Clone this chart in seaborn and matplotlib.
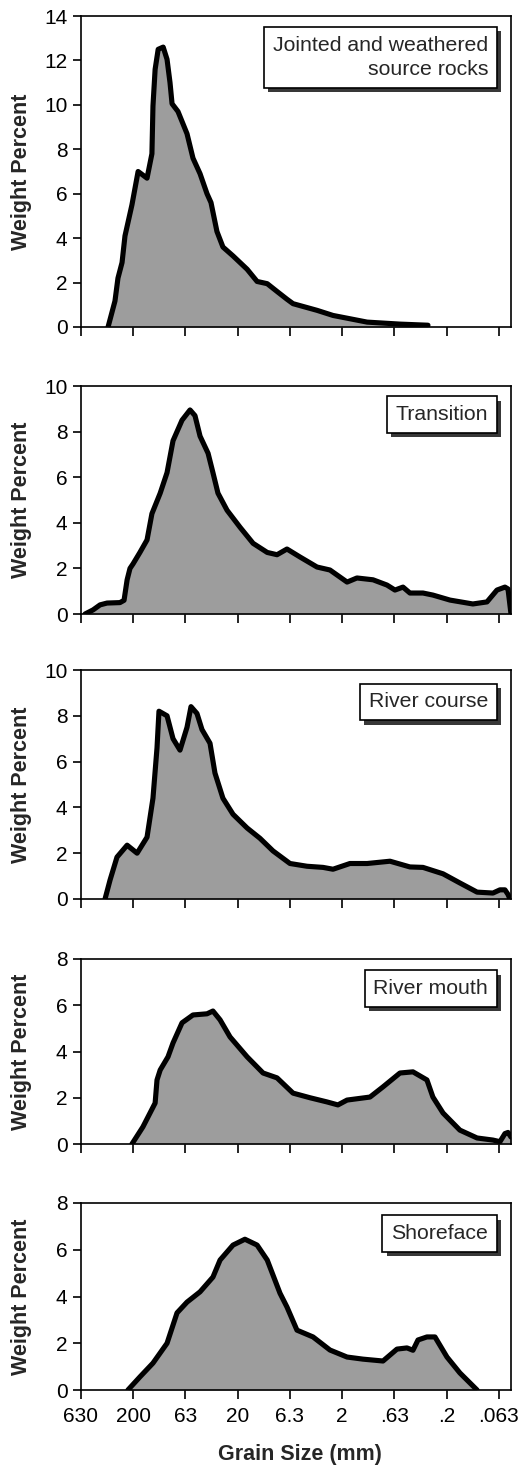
import matplotlib
matplotlib.use("Agg")
import matplotlib.pyplot as plt
import matplotlib.patheffects as pe
from matplotlib.ticker import NullLocator
import pandas as pd
import seaborn as sns

# Grain-size distributions (grain size in mm, weight percent) along the
# sediment pathway from source rocks to the shoreface.
source_mm = [347, 298, 279, 255, 239, 205, 179, 147, 132, 129, 123, 115, 103,
             94.6, 88.6, 84.7, 74.3, 60.9, 53.4, 45.7, 39.2, 35.9, 31.5, 27.6,
             22.1, 16.2, 13.0, 10.4, 8.38, 6.73, 5.89, 3.47, 2.44, 1.15, 0.558,
             0.301]
source_wt = [0, 1.17, 2.2, 2.9, 4.1, 5.5, 7.0, 6.7, 7.8, 9.95, 11.6, 12.5,
             12.6, 12.05, 11.0, 10.05, 9.7, 8.7, 7.6, 6.9, 6.0, 5.6, 4.3, 3.6,
             3.2, 2.6, 2.05, 1.95, 1.6, 1.25, 1.05, 0.75, 0.52, 0.22, 0.13,
             0.08]

transition_mm = [576, 483, 414, 355, 267, 244, 228, 214, 200, 172, 147, 132,
                 110, 94.6, 82.9, 68.0, 57.0, 51.1, 45.7, 38.3, 34.4, 30.8,
                 25.2, 18.9, 14.2, 10.4, 8.38, 6.73, 5.05, 3.47, 2.61, 1.79,
                 1.44, 1.01, 0.743, 0.623, 0.522, 0.448, 0.336, 0.270, 0.185,
                 0.112, 0.082, 0.0658, 0.0552, 0.0516, 0.0483]
transition_wt = [0, 0.18, 0.4, 0.48, 0.5, 0.6, 1.5, 2.0, 2.2, 2.7, 3.25, 4.4,
                 5.3, 6.2, 7.6, 8.5, 8.95, 8.7, 7.8, 7.05, 6.2, 5.3, 4.55, 3.8,
                 3.1, 2.7, 2.6, 2.85, 2.5, 2.06, 1.93, 1.4, 1.58, 1.5, 1.27,
                 1.05, 1.18, 0.92, 0.92, 0.83, 0.61, 0.44, 0.53, 1.05, 1.18,
                 1.1, 0]

course_mm = [371, 332, 285, 228, 183, 147, 129, 118, 113, 94.6, 82.9, 71.1,
             60.9, 55.8, 48.9, 43.8, 36.7, 32.9, 27.6, 22.1, 16.2, 12.2, 9.16,
             6.30, 4.33, 3.04, 2.44, 1.68, 1.15, 0.695, 0.448, 0.336, 0.216,
             0.149, 0.102, 0.0719, 0.0616, 0.0552, 0.0516, 0.0494]
course_wt = [0, 0.83, 1.83, 2.35, 2.0, 2.7, 4.4, 6.6, 8.2, 8.0, 7.0, 6.5, 7.5,
             8.4, 8.1, 7.4, 6.8, 5.5, 4.4, 3.7, 3.1, 2.65, 2.1, 1.55, 1.43,
             1.38, 1.3, 1.55, 1.55, 1.65, 1.4, 1.38, 1.1, 0.7, 0.3, 0.26, 0.4,
             0.4, 0.2, 0]

mouth_mm = [205, 161, 123, 118, 110, 92.6, 82.9, 68.0, 53.4, 39.2, 34.4, 29.4,
            23.6, 16.2, 11.4, 8.38, 5.89, 4.05, 2.79, 2.19, 1.79, 1.08, 0.811,
            0.558, 0.419, 0.308, 0.270, 0.216, 0.149, 0.102, 0.0719, 0.0616,
            0.0552, 0.0516, 0.0483]
mouth_wt = [0, 0.74, 1.77, 2.77, 3.2, 3.77, 4.37, 5.24, 5.58, 5.63, 5.75, 5.37,
            4.63, 3.77, 3.07, 2.86, 2.2, 2.0, 1.82, 1.69, 1.9, 2.03, 2.47,
            3.07, 3.12, 2.77, 2.03, 1.34, 0.6, 0.26, 0.17, 0.1, 0.45, 0.5, 0.3]

shore_mm = [224, 172, 129, 94.6, 75.9, 60.9, 45.7, 34.4, 29.4, 22.1, 17.0,
            13.0, 10.4, 7.85, 6.73, 5.40, 3.79, 2.61, 1.79, 1.26, 0.811, 0.596,
            0.478, 0.419, 0.375, 0.308, 0.258, 0.198, 0.149, 0.102]
shore_wt = [0, 0.56, 1.15, 2.0, 3.3, 3.76, 4.2, 4.83, 5.56, 6.2, 6.45, 6.2,
            5.56, 4.14, 3.55, 2.56, 2.27, 1.71, 1.41, 1.32, 1.24, 1.75, 1.8,
            1.7, 2.14, 2.27, 2.27, 1.41, 0.73, 0]

panel_names = ["Jointed and weathered\nsource rocks", "Transition",
               "River course", "River mouth", "Shoreface"]
panel_mm = [source_mm, transition_mm, course_mm, mouth_mm, shore_mm]
panel_wt = [source_wt, transition_wt, course_wt, mouth_wt, shore_wt]
panel_ymax = [14, 10, 10, 8, 8]

size_ticks = [630, 200, 63, 20, 6.3, 2, 0.63, 0.2, 0.063]
size_labels = ["630", "200", "63", "20", "6.3", "2", ".63", ".2", ".063"]

sns.set_theme(style="ticks")
plt.rcParams["font.family"] = ["Liberation Sans", "DejaVu Sans"]
plt.rcParams["axes.linewidth"] = 1.2
plt.rcParams["axes.edgecolor"] = "black"

W, H = 528, 1468
fig = plt.figure(figsize=(W / 100, H / 100), dpi=100)

# axes frames in pixels: (top, bottom)
frames = [(16, 327), (386, 614), (670, 899), (959, 1144), (1203, 1390)]
left_px, right_px = 81, 511
# top of the label text, in axes fraction
label_tops = [0.935, 0.915, 0.902, 0.890, 0.886]

fill_color = "#9d9d9d"
for i, (top, bot) in enumerate(frames):
    ax = fig.add_axes([left_px / W, 1 - bot / H, (right_px - left_px) / W,
                       (bot - top) / H])
    df = pd.DataFrame({"size": panel_mm[i], "weight": panel_wt[i]})
    ax.fill_between(df["size"], df["weight"], 0, color=fill_color,
                    linewidth=0, zorder=1)
    sns.lineplot(data=df, x="size", y="weight", ax=ax, sort=False,
                 estimator=None, color="black", linewidth=3.7,
                 solid_joinstyle="round", solid_capstyle="round", zorder=2)
    ax.set_xscale("log")
    ax.set_xlim(630, 0.0483)
    ax.set_ylim(0, panel_ymax[i])
    ax.set_xticks(size_ticks)
    ax.xaxis.set_minor_locator(NullLocator())
    ax.set_yticks(range(0, panel_ymax[i] + 1, 2))
    ax.tick_params(axis="x", direction="out", length=6.5, width=1.2,
                   pad=6, labelsize=15, colors="black")
    ax.tick_params(axis="y", direction="out", length=5.8, width=1.2,
                   pad=4, labelsize=15, colors="black")
    if i == len(frames) - 1:
        ax.set_xticklabels(size_labels)
        ax.set_xlabel("Grain Size (mm)", fontsize=15.5, fontweight="bold")
        ax.xaxis.set_label_coords(0.509, -0.29)
    else:
        ax.set_xticklabels([])
        ax.set_xlabel("")
    ax.set_ylabel("Weight Percent", fontsize=15.5, fontweight="bold")
    ax.yaxis.set_label_coords(-0.113, 0.5)
    for sp in ax.spines.values():
        sp.set_visible(True)
        sp.set_linewidth(1.2)
        sp.set_zorder(3)

    t = ax.text(0.947, label_tops[i], panel_names[i], transform=ax.transAxes,
                ha="right", va="top", fontsize=15.3, linespacing=1.3,
                multialignment="right", zorder=5,
                bbox=dict(boxstyle="square,pad=0.42", fc="white",
                          ec="black", lw=1.2))
    t.get_bbox_patch().set_path_effects([
        pe.SimplePatchShadow(offset=(3, -3), shadow_rgbFace="0.22", alpha=1.0),
        pe.Normal()])

fig.savefig("out.png", dpi=100, facecolor="white")
